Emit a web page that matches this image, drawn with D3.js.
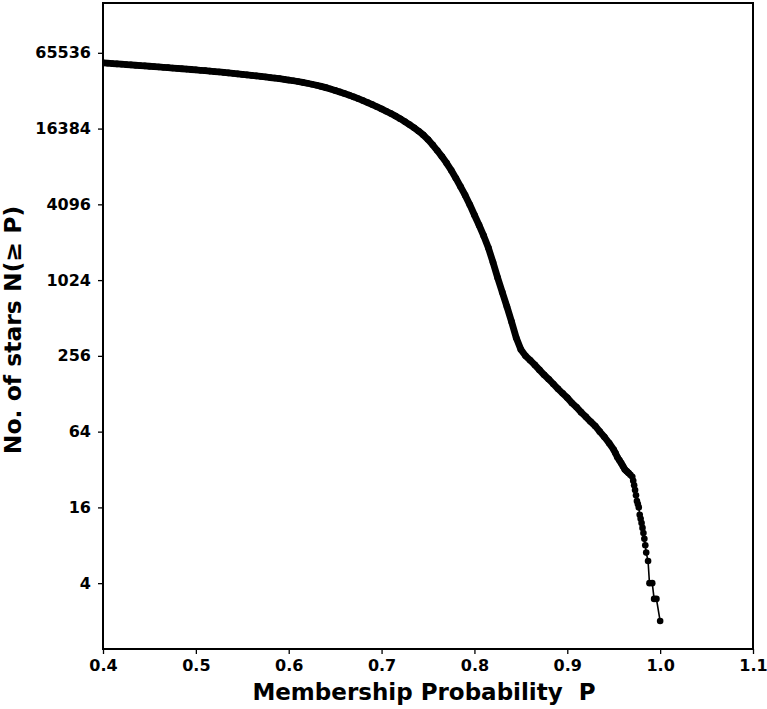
<!DOCTYPE html>
<html>
<head>
<meta charset="utf-8">
<script src="https://cdn.jsdelivr.net/npm/d3@7"></script>
<style>
  body { margin: 0; background: #fff; }
  svg text { font-family: "DejaVu Sans", sans-serif; font-weight: bold; }
</style>
</head>
<body>
<div id="chart"></div>
<script>
// membership probability P (x) and cumulative number of stars N(>=P) (y)
const probability = [
  0.400, 0.405, 0.410, 0.415, 0.420, 0.425, 0.430, 0.435, 0.440, 0.445,
  0.450, 0.455, 0.460, 0.465, 0.470, 0.475, 0.480, 0.485, 0.490, 0.495,
  0.500, 0.505, 0.510, 0.515, 0.520, 0.525, 0.530, 0.535, 0.540, 0.545,
  0.550, 0.555, 0.560, 0.565, 0.570, 0.575, 0.580, 0.585, 0.590, 0.595,
  0.600, 0.605, 0.610, 0.615, 0.620, 0.625, 0.630, 0.635, 0.640, 0.645,
  0.650, 0.655, 0.660, 0.665, 0.670, 0.675, 0.680, 0.685, 0.690, 0.695,
  0.700, 0.705, 0.710, 0.715, 0.720, 0.725, 0.730, 0.735, 0.740, 0.745,
  0.750, 0.755, 0.760, 0.765, 0.770, 0.775, 0.780, 0.785, 0.790, 0.795,
  0.800, 0.805, 0.810, 0.815, 0.820, 0.825, 0.830, 0.835, 0.840, 0.845,
  0.850, 0.855, 0.860, 0.865, 0.870, 0.875, 0.880, 0.885, 0.890, 0.895,
  0.900, 0.905, 0.910, 0.915, 0.920, 0.925, 0.930, 0.935, 0.940, 0.945,
  0.950, 0.952, 0.954, 0.956, 0.958, 0.960, 0.962, 0.964, 0.966, 0.968,
  0.970, 0.971, 0.972, 0.973, 0.974, 0.975, 0.976, 0.977, 0.978, 0.979,
  0.980, 0.981, 0.982, 0.983, 0.984, 0.985, 0.987, 0.9885, 0.9915, 0.9935,
  0.996, 1.000
];

const numStars = [
  54500, 54170, 53840, 53510, 53180, 52860, 52530, 52210, 51880, 51560,
  51240, 50910, 50590, 50260, 49940, 49610, 49280, 48950, 48630, 48300,
  47970, 47620, 47270, 46910, 46540, 46160, 45780, 45390, 44990, 44570,
  44150, 43750, 43350, 42950, 42540, 42130, 41710, 41290, 40860, 40380,
  39800, 39300, 38760, 38180, 37550, 36880, 36170, 35430, 34650, 33820,
  32950, 32050, 31130, 30200, 29260, 28300, 27340, 26370, 25400, 24440,
  23470, 22520, 21560, 20590, 19620, 18620, 17620, 16610, 15610, 14570,
  13400, 12160, 10960, 9810, 8720, 7640, 6610, 5670, 4840, 4070,
  3370, 2800, 2300, 1850, 1420, 1070, 820, 630, 478, 357,
  288, 256, 236, 217, 198, 181, 167, 153, 140, 129,
  119, 108, 100, 91, 84, 77, 71, 64, 58, 52,
  46, 43, 40, 38, 36, 34, 32, 31, 30, 29,
  28, 26, 24, 22, 20, 18, 17, 16, 14, 13,
  12, 11, 10, 9, 8, 7, 6, 4, 4, 3,
  3, 2
];

const xTicks = [0.4, 0.5, 0.6, 0.7, 0.8, 0.9, 1.0, 1.1];
const yTicks = [4, 16, 64, 256, 1024, 4096, 16384, 65536];

// below this P the markers sit so close together they merge into one thick band
const denseLimit = 0.966;

const width = 767, height = 709;
const margin = { top: 3, right: 14, bottom: 60, left: 103 };
const plotW = width - margin.left - margin.right;
const plotH = height - margin.top - margin.bottom;

const svg = d3.select('#chart').append('svg')
    .attr('width', width)
    .attr('height', height);

svg.append('clipPath')
    .attr('id', 'plot-clip')
    .append('rect')
    .attr('x', margin.left)
    .attr('y', margin.top)
    .attr('width', plotW)
    .attr('height', plotH);

const x = d3.scaleLinear()
    .domain([0.4, 1.1])
    .range([margin.left, width - margin.right]);

const y = d3.scaleLog()
    .base(2)
    .domain([Math.pow(2, 0.262), Math.pow(2, 17.315)])
    .range([height - margin.bottom, margin.top]);

const points = probability.map((p, i) => ({ p, n: numStars[i] }));

const line = d3.line()
    .x(d => x(d.p))
    .y(d => y(d.n));

const plot = svg.append('g')
    .attr('clip-path', 'url(#plot-clip)');

plot.append('path')
    .datum(points.filter(d => d.p <= denseLimit))
    .attr('fill', 'none')
    .attr('stroke', '#000')
    .attr('stroke-width', 6.8)
    .attr('stroke-linejoin', 'round')
    .attr('stroke-linecap', 'round')
    .attr('d', line);

plot.append('path')
    .datum(points)
    .attr('fill', 'none')
    .attr('stroke', '#000')
    .attr('stroke-width', 1.6)
    .attr('d', line);

plot.append('g')
    .selectAll('circle')
    .data(points)
    .join('circle')
    .attr('cx', d => x(d.p))
    .attr('cy', d => y(d.n))
    .attr('r', 3.3)
    .attr('fill', '#000');

const xAxis = svg.append('g')
    .attr('transform', `translate(0, ${height - margin.bottom})`)
    .call(d3.axisBottom(x).tickValues(xTicks).tickFormat(d3.format('.1f')).tickSize(5).tickPadding(6));

const yAxis = svg.append('g')
    .attr('transform', `translate(${margin.left}, 0)`)
    .call(d3.axisLeft(y).tickValues(yTicks).tickFormat(d => d).tickSize(5).tickPadding(7));

[xAxis, yAxis].forEach(g => {
    g.select('.domain').remove();
    g.selectAll('line').attr('stroke', '#000').attr('stroke-width', 1.3);
    g.selectAll('text').attr('fill', '#000').style('font-size', '16px');
});

// frame
svg.append('rect')
    .attr('x', margin.left)
    .attr('y', margin.top)
    .attr('width', plotW)
    .attr('height', plotH)
    .attr('fill', 'none')
    .attr('stroke', '#000')
    .attr('stroke-width', 2);

svg.append('text')
    .attr('x', 424)
    .attr('y', 700)
    .attr('text-anchor', 'middle')
    .style('font-size', '23px')
    .style('white-space', 'pre')
    .text('Membership Probability  P');

svg.append('text')
    .attr('transform', `translate(21, ${margin.top + plotH / 2 + 4}) rotate(-90)`)
    .attr('text-anchor', 'middle')
    .style('font-size', '23.5px')
    .text('No. of stars N(≥ P)');
</script>
</body>
</html>
